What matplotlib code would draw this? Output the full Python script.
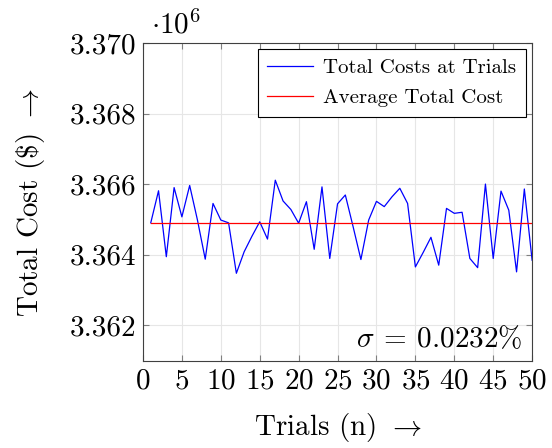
import matplotlib
matplotlib.use("Agg")
import matplotlib.pyplot as plt
from matplotlib.ticker import FormatStrFormatter

# Total cost per trial [$]
trials = list(range(1, 51))
total_costs = [
    3364900, 3365810, 3363940, 3365900, 3365070, 3365960, 3364980, 3363870, 3365450, 3364980,
    3364900, 3363470, 3364080, 3364520, 3364930, 3364440, 3366110, 3365520, 3365280, 3364890,
    3365500, 3364150, 3365920, 3363890, 3365440, 3365690, 3364790, 3363860, 3364980, 3365510,
    3365360, 3365640, 3365880, 3365450, 3363650, 3364060, 3364490, 3363700, 3365310, 3365170,
    3365200, 3363890, 3363630, 3366000, 3363890, 3365800, 3365260, 3363510, 3365860, 3363840,
]
average_cost = 3364890
sigma_text = r"$\sigma \:=\: 0.0232\%$"

plt.rcParams["font.family"] = ["cmr10"]
plt.rcParams["mathtext.fontset"] = "cm"
plt.rcParams["axes.formatter.use_mathtext"] = True

fig = plt.figure(figsize=(5.52, 4.48), dpi=100)
ax = fig.add_axes([0.259, 0.194, 0.705, 0.710])

scale = 1e6
ax.plot(trials, [c / scale for c in total_costs], color="#0000ff", lw=0.9,
        label="Total Costs at Trials")
ax.plot([trials[0], trials[-1]], [average_cost / scale] * 2, color="#ff0000", lw=0.9,
        label="Average Total Cost")

ax.set_xlim(0, 50)
ax.set_ylim(3.36098, 3.370)
ax.set_xticks(range(0, 51, 5))
ax.set_yticks([3.362, 3.364, 3.366, 3.368, 3.370])
ax.yaxis.set_major_formatter(FormatStrFormatter("%.3f"))

ax.grid(True, color="#e6e6e6", lw=0.8)
ax.set_axisbelow(True)
ax.tick_params(direction="in", length=4, width=0.8, color="#808080",
               top=True, right=True, labelsize=21, pad=5)
for s in ax.spines.values():
    s.set_color("#404040")
    s.set_linewidth(0.8)

ax.set_xlabel(r"Trials (n) $\rightarrow$", fontsize=21, labelpad=12)
ax.set_ylabel(r"Total Cost (\$) $\rightarrow$", fontsize=21, labelpad=16)

ax.text(0.02, 1.01, r"$\cdot 10^6$", transform=ax.transAxes,
        fontsize=21, ha="left", va="bottom")
ax.text(0.975, 0.025, sigma_text, transform=ax.transAxes,
        fontsize=21, ha="right", va="bottom")

leg = ax.legend(loc="upper right", fontsize=15, handlelength=2.2,
                fancybox=False, framealpha=1, edgecolor="black",
                borderaxespad=0.3, borderpad=0.45, labelspacing=0.55,
                handletextpad=0.5)
leg.get_frame().set_linewidth(0.8)

fig.savefig("out.png", dpi=100)
